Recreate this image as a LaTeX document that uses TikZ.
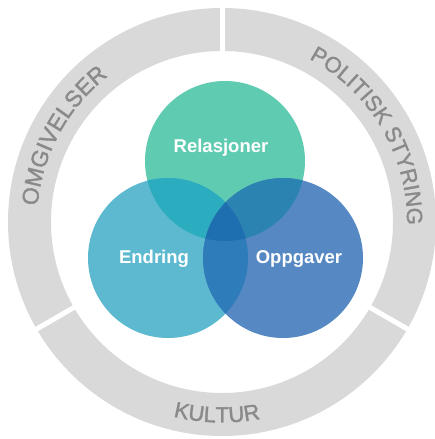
\documentclass[tikz,border=0pt]{standalone}
\usepackage{fontspec}
\setmainfont{Liberation Sans}
\newfontfamily\ringface[FakeBold=1.6]{Liberation Sans}
\usetikzlibrary{decorations.text}
\definecolor{ringgray}{RGB}{217,217,217}
\definecolor{ringtext}{RGB}{138,138,138}
\definecolor{colR}{RGB}{95,203,177}
\definecolor{colE}{RGB}{92,185,207}
\definecolor{colO}{RGB}{86,137,195}
\definecolor{colRE}{RGB}{43,173,191}
\definecolor{colRO}{RGB}{43,131,178}
\definecolor{colEO}{RGB}{46,124,186}
\definecolor{colREO}{RGB}{30,111,175}
\newcommand\ringfnt{\ringface\fontsize{22}{22}\selectfont}
\newcommand\ringfntb{\ringface\fontsize{23}{23}\selectfont}
\newcommand\lblfnt{\bfseries\fontsize{18.5}{18.5}\selectfont}
\begin{document}
\begin{tikzpicture}[x=1pt,y=1pt,
  venn/.style={circle, minimum size=160pt, inner sep=0pt, draw=none},
  lbl/.style={text=white, font=\lblfnt, inner sep=0pt},
  gapline/.style={white, line width=5pt},
  ringtxt/.style={decorate, decoration={text along path, text align=center, text color=ringtext, text={#1}}}
]
\useasboundingbox (0,0) rectangle (435,439);
\coordinate (c) at (222,217);
% ring
\fill[ringgray, even odd rule] (c) circle[radius=214] (c) circle[radius=171];
\foreach \a in {90,210,330} \draw[gapline] (c) ++(\a:165) -- ++(\a:55);
% ring texts
\path[ringtxt={|\ringfntb|OMGIVELSER}, shift={(c)}] (201.5:185) arc[start angle=201.5, end angle=101.5, radius=185];
\path[ringtxt={|\ringfnt|POLITISK STYRING}, shift={(c)}] (80.5:185) arc[start angle=80.5, end angle=-19.5, radius=185];
\path[ringtxt={|\ringfnt|KULTUR}, shift={(c)}] (218.5:200.5) arc[start angle=218.5, end angle=318.5, radius=200.5];
% venn circles
\node[venn, fill=colR] (rel) at (225,278) {};
\node[venn, fill=colE] (end) at (168,181) {};
\node[venn, fill=colO] (opp) at (283,181) {};
\begin{scope}
  \clip (rel.center) circle[radius=80];
  \fill[colRE] (end.center) circle[radius=80];
\end{scope}
\begin{scope}
  \clip (rel.center) circle[radius=80];
  \fill[colRO] (opp.center) circle[radius=80];
\end{scope}
\begin{scope}
  \clip (end.center) circle[radius=80];
  \fill[colEO] (opp.center) circle[radius=80];
\end{scope}
\begin{scope}
  \clip (rel.center) circle[radius=80];
  \clip (end.center) circle[radius=80];
  \fill[colREO] (opp.center) circle[radius=80];
\end{scope}
% labels
\node[lbl] (trel) at (221,291) {Relasjoner};
\node[lbl] (tend) at (154,180) {Endring};
\node[lbl] (topp) at (299,180) {Oppgaver};
\end{tikzpicture}
\end{document}
